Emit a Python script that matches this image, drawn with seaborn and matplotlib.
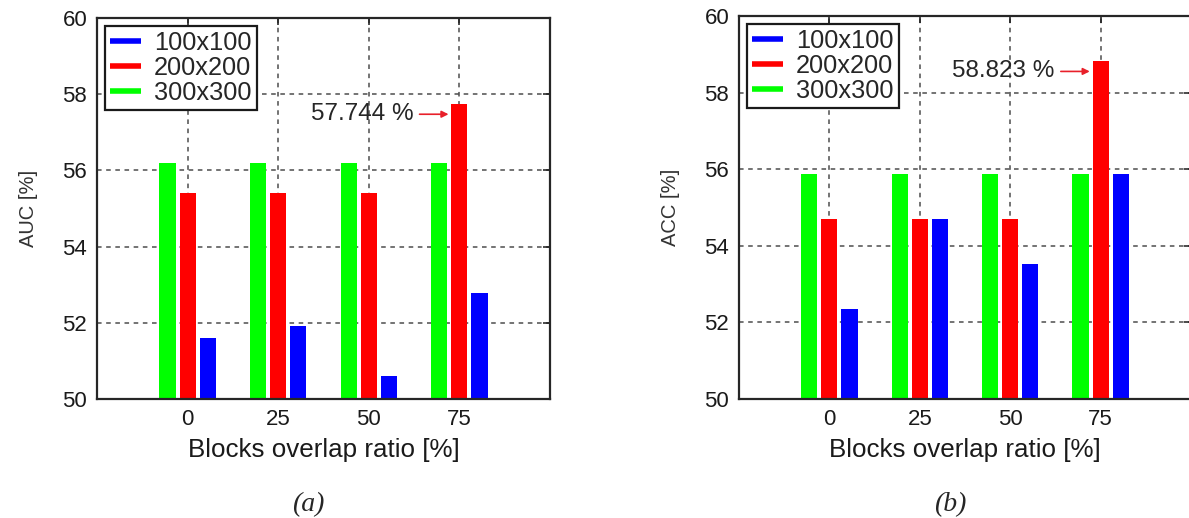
import matplotlib
matplotlib.use("Agg")
import matplotlib.pyplot as plt
from matplotlib.lines import Line2D
import seaborn as sns
import pandas as pd

# Block overlap ratios on the x axis
overlap = ["0", "25", "50", "75"]
sizes = ["100x100", "200x200", "300x300"]

# AUC [%] per block size
auc_100 = [51.61, 51.92, 50.61, 52.77]
auc_200 = [55.41, 55.41, 55.41, 57.744]
auc_300 = [56.19, 56.19, 56.19, 56.19]

# ACC [%] per block size
acc_100 = [52.353, 54.706, 53.529, 55.882]
acc_200 = [54.706, 54.706, 54.706, 58.823]
acc_300 = [55.882, 55.882, 55.882, 55.882]

colors = {"100x100": "#0000ff", "200x200": "#ff0000", "300x300": "#00ff00"}
bar_order = ["300x300", "200x200", "100x100"]

sns.set_style("white")
plt.rcParams["font.family"] = ["Liberation Sans", "DejaVu Sans"]


def long_table(v100, v200, v300):
    rows = []
    for vals, name in ((v100, "100x100"), (v200, "200x200"), (v300, "300x300")):
        for o, v in zip(overlap, vals):
            rows.append({"overlap": o, "size": name, "value": v})
    return pd.DataFrame(rows)


def draw_panel(ax, df, ylabel, peak_value):
    sns.barplot(data=df, x="overlap", y="value", hue="size", order=overlap,
                hue_order=bar_order, palette=colors, width=0.667, gap=0.2,
                errorbar=None, legend=False, ax=ax, saturation=1,
                linewidth=0, zorder=2)
    ax.set_xlim(-1, 4)
    ax.set_ylim(50, 60)
    ax.set_yticks([50, 52, 54, 56, 58, 60])
    ax.set_axisbelow(True)
    ax.grid(True, linestyle=(0, (3, 3)), color="0.3", linewidth=1.1)
    ax.tick_params(direction="in", top=True, right=True, length=5,
                   width=1.1, labelsize=16, colors="0.1", pad=7)
    for sp in ax.spines.values():
        sp.set_visible(True)
        sp.set_color("0.15")
        sp.set_linewidth(1.6)
        sp.set_zorder(5)
    ax.set_xlabel("Blocks overlap ratio [%]", fontsize=18.7, color="0.1",
                  labelpad=6)
    ax.set_ylabel(ylabel, fontsize=14.5, color="0.2", labelpad=18)

    handles = [Line2D([0], [0], color=colors[s], lw=4, solid_capstyle="butt")
               for s in sizes]
    leg = ax.legend(handles, sizes, loc="upper left", fontsize=18.3,
                    frameon=True, fancybox=False, edgecolor="0.1",
                    framealpha=1, handlelength=1.25, handletextpad=0.5,
                    labelspacing=0.05, borderpad=0.2,
                    borderaxespad=0.3)
    leg.get_frame().set_linewidth(1.6)

    # value label with arrow pointing at the highest bar
    y_arrow = peak_value - 0.27
    ax.annotate("", xy=(2.88, y_arrow), xytext=(2.56, y_arrow),
                arrowprops=dict(arrowstyle="-|>", color="#e8202a", lw=1.2,
                                mutation_scale=10, shrinkA=0, shrinkB=0))
    ax.text(2.49, y_arrow, f"{peak_value:.3f} %", ha="right", va="center",
            fontsize=17.5, color="0.15")


fig = plt.figure(figsize=(11.89, 5.18), dpi=100)
ax_a = fig.add_axes([97 / 1189, 119 / 518, 453 / 1189, 381 / 518])
ax_b = fig.add_axes([739 / 1189, 119 / 518, 452 / 1189, 383 / 518])

draw_panel(ax_a, long_table(auc_100, auc_200, auc_300), "AUC [%]", auc_200[3])
draw_panel(ax_b, long_table(acc_100, acc_200, acc_300), "ACC [%]", acc_200[3])

fig.text(308 / 1189, 1 - 505 / 518, "(a)", ha="center", va="center",
         fontsize=20, style="italic", family="Liberation Serif")
fig.text(950 / 1189, 1 - 505 / 518, "(b)", ha="center", va="center",
         fontsize=20, style="italic", family="Liberation Serif")

fig.savefig("out.png", dpi=100)
